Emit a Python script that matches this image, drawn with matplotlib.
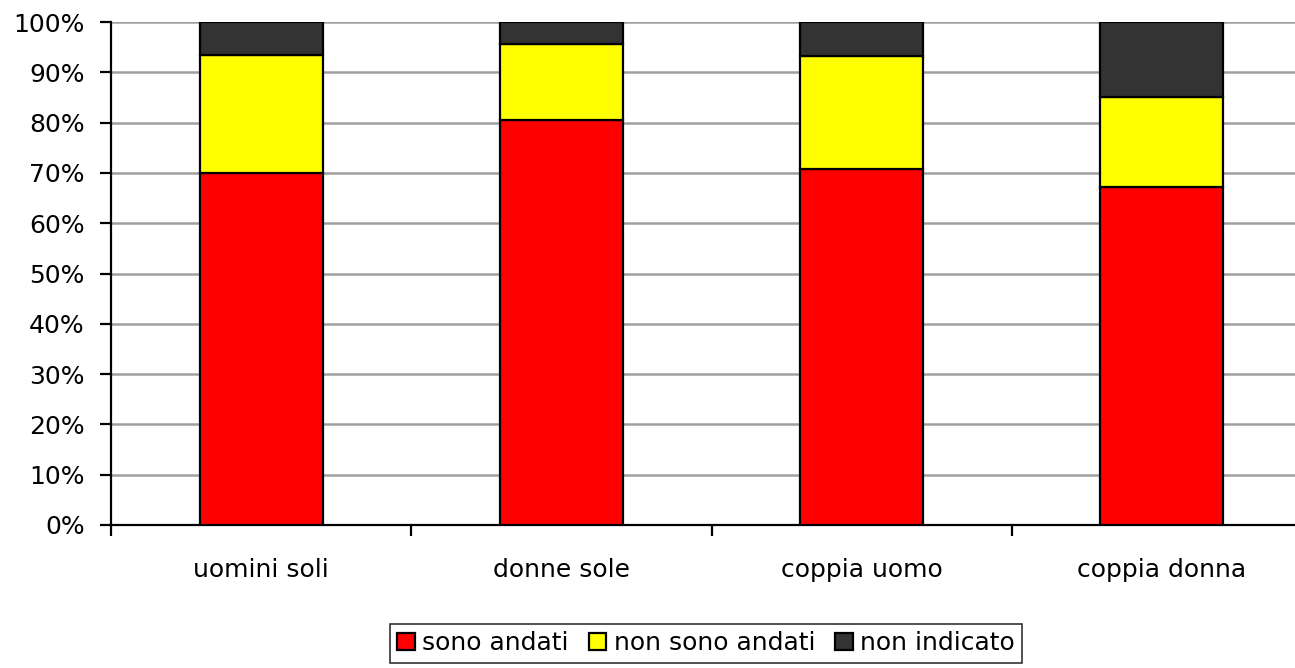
import matplotlib.pyplot as plt
import numpy as np

categories = ["uomini soli", "donne sole", "coppia uomo", "coppia donna"]
sono_andati = [70.0, 80.5, 70.8, 67.1]
non_sono_andati = [23.4, 15.1, 22.5, 17.9]
non_indicato = [6.6, 4.4, 6.7, 15.0]

series_names = ["sono andati", "non sono andati", "non indicato"]
colors = ["#FF0000", "#FFFF00", "#333333"]

plt.rcParams['font.family'] = ['DejaVu Sans']
fs = 18

fig = plt.figure(figsize=(12.95, 6.68), dpi=100)
ax = fig.add_axes([111 / 1295, 1 - 525 / 668, 1201 / 1295, 503 / 668])

x = np.arange(len(categories))
bottom = np.zeros(len(categories))
handles = []
for vals, name, col in zip([sono_andati, non_sono_andati, non_indicato], series_names, colors):
    b = ax.bar(x, vals, width=0.41, bottom=bottom, color=col, edgecolor="black",
               linewidth=1.6, label=name, zorder=3)
    handles.append(b)
    bottom += np.array(vals)

ax.set_ylim(0, 100)
ax.set_xlim(-0.5, len(categories) - 0.5)
ax.set_yticks(np.arange(0, 101, 10))
ax.set_yticklabels([f"{v}%" for v in range(0, 101, 10)], fontsize=fs)
ax.yaxis.grid(True, color="#a0a0a0", linewidth=1.8, zorder=0)
ax.set_axisbelow(True)

ax.set_xticks(np.arange(-0.5, len(categories) - 0.5, 1))
ax.set_xticklabels([])
ax.set_xticks(x, minor=True)
ax.set_xticklabels(categories, minor=True, fontsize=fs)
ax.tick_params(axis="x", which="major", direction="out", length=8, width=1.6)
ax.tick_params(axis="x", which="minor", length=0, pad=24)
ax.tick_params(axis="y", direction="out", length=8, width=1.6, pad=11)

for s in ["top", "right"]:
    ax.spines[s].set_visible(False)
for s in ["left", "bottom"]:
    ax.spines[s].set_linewidth(1.6)

leg = fig.legend(handles=handles, labels=series_names, loc="center",
                 bbox_to_anchor=(706 / 1295, 1 - 643 / 668), ncol=3, fontsize=fs,
                 frameon=True, fancybox=False, edgecolor="black",
                 handlelength=0.7, handleheight=0.7, handletextpad=0.3,
                 columnspacing=0.8, borderpad=0.3)
leg.get_frame().set_linewidth(1.2)

fig.savefig("out.png", dpi=100)
